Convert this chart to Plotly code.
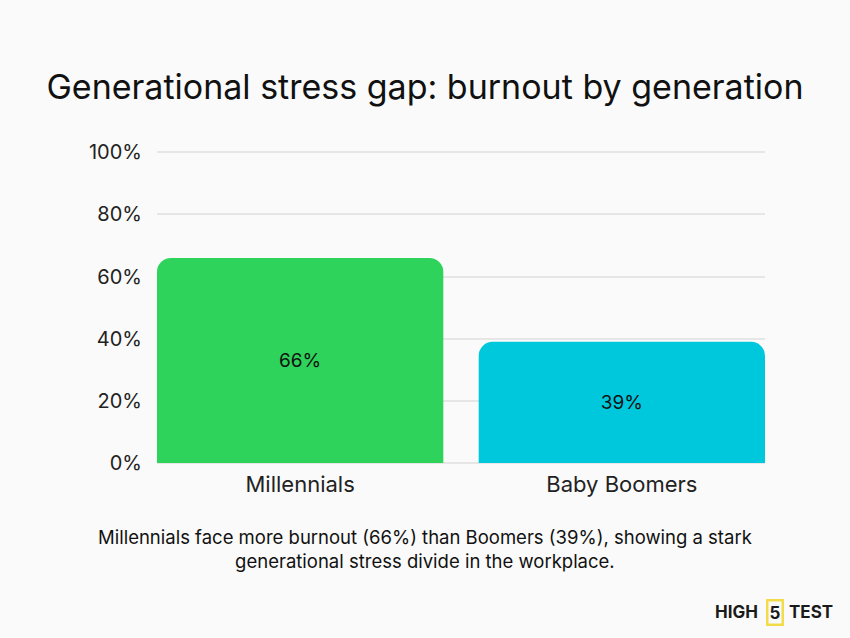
import plotly.graph_objects as go

generations = ["Millennials", "Baby Boomers"]
burnout = [66, 39]
bar_labels = ["66%", "39%"]
bar_colors = ["#2ed35b", "#00c8dc"]
y_ticks = [0, 20, 40, 60, 80, 100]
y_tick_text = ["0%", "20%", "40%", "60%", "80%", "100%"]
caption = ("Millennials face more burnout (66%) than Boomers (39%), showing a stark<br>"
           "generational stress divide in the workplace.")

font = "Inter, Open Sans, sans-serif"

fig = go.Figure(go.Bar(
    x=generations, y=burnout,
    marker=dict(color=bar_colors, line_width=0),
    text=bar_labels, textposition="inside", insidetextanchor="middle",
    textfont=dict(size=19, color="#111111", family=font),
    hoverinfo="skip",
))

fig.update_layout(
    width=850, height=638,
    paper_bgcolor="#fafafa", plot_bgcolor="#fafafa",
    margin=dict(l=157, r=85, t=151, b=175),
    bargap=0.11, barcornerradius=14,
    showlegend=False,
    title=dict(text="Generational stress gap: burnout by generation",
               x=0.5, xanchor="center", y=0.864, yanchor="middle",
               font=dict(size=34, color="#111111", family=font)),
    font=dict(family=font, color="#222222"),
)
fig.update_xaxes(range=[-0.445, 1.445], showgrid=False, showline=False,
                 ticks="", ticklabelstandoff=6, tickfont=dict(size=22, color="#222222"))
fig.update_yaxes(range=[0, 100.4], tickvals=y_ticks, ticktext=y_tick_text,
                 showgrid=True, gridcolor="#e6e6e6", gridwidth=1.5,
                 zeroline=True, zerolinecolor="#e6e6e6", zerolinewidth=1.5,
                 showline=False, ticks="", ticklabelstandoff=14,
                 tickfont=dict(size=20, color="#222222"))

fig.add_annotation(xref="paper", yref="paper", x=0.441, y=-0.276, xanchor="center", yanchor="middle",
                   text=caption, showarrow=False, borderpad=0,
                   font=dict(size=18.5, color="#111111", family=font))

# logo
fig.add_annotation(xref="paper", yref="paper", x=0.992, y=-0.478, xanchor="right", yanchor="middle",
                   text="<b>HIGH</b>", showarrow=False, font=dict(size=17, color="#1a1a1a", family=font))
fig.add_annotation(xref="paper", yref="paper", x=1.016, y=-0.478, xanchor="center", yanchor="middle",
                   text="<b>5</b>", showarrow=False, bordercolor="#f2dc4a", borderwidth=2.5, borderpad=1,
                   font=dict(size=17, color="#1a1a1a", family=font))
fig.add_annotation(xref="paper", yref="paper", x=1.036, y=-0.478, xanchor="left", yanchor="middle",
                   text="<b>TEST</b>", showarrow=False, font=dict(size=17, color="#1a1a1a", family=font))

fig.write_html("out.html", config={"displayModeBar": False},
               post_script="document.body.style.margin='0px';")
